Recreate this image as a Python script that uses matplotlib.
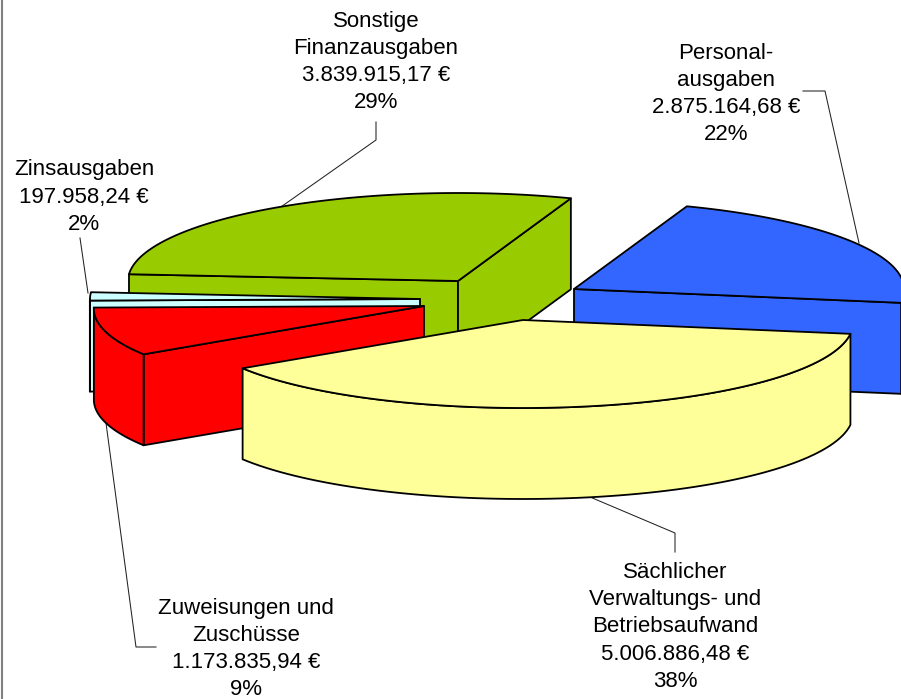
import numpy as np
import matplotlib
matplotlib.use('Agg')
import matplotlib.pyplot as plt
from matplotlib.patches import Polygon

plt.rcParams['font.family'] = ['Liberation Sans', 'DejaVu Sans']

# clockwise order of the pie
names = ['Personal-\nausgaben', 'Sächlicher\nVerwaltungs- und\nBetriebsaufwand',
         'Zuweisungen und\nZuschüsse', 'Zinsausgaben', 'Sonstige\nFinanzausgaben']
amounts = [2875164.68, 5006886.48, 1173835.94, 197958.24, 3839915.17]
amount_labels = ['2.875.164,68 €', '5.006.886,48 €', '1.173.835,94 €', '197.958,24 €', '3.839.915,17 €']
percent_labels = ['22%', '38%', '9%', '2%', '29%']
colors = ['#3366FF', '#FFFF99', '#FF0000', '#CCFFFF', '#99CC00']

# layout, in pixels of the picture
apex = [(574, 289), (523, 320), (424, 306), (420, 299), (458, 281)]
draw_order = [4, 0, 3, 2, 1]
label_pos = [(726, 94), (675, 627), (246, 649), (84, 197), (376, 62)]
leaders = [
    [(859, 243), (825, 91), (803, 91)],
    [(590, 497), (675, 533), (675, 552)],
    [(106, 423), (136, 647), (156, 647)],
    [(80, 238), (88, 293)],
    [(278, 209), (376, 140), (376, 122)],
]
RX, RY, DEPTH = 330, 88, 91
NEAR = 0.03  # front of the pie looks a bit wider
START = 290

fig = plt.figure(figsize=(9.01, 6.99), dpi=100)
ax = fig.add_axes([0, 0, 1, 1])
ax.set_xlim(0, 901)
ax.set_ylim(699, 0)
ax.axis('off')


def rim_point(c, deg):
    t = np.radians(deg)
    wide = 1 + NEAR * np.maximum(np.sin(t), 0)
    return np.column_stack([c[0] + RX * wide * np.cos(t), c[1] + RY * np.sin(t)])


def arc(c, a, b):
    return rim_point(c, np.linspace(a, b, 80))


def patch(pts, color):
    ax.add_patch(Polygon(pts, closed=True, facecolor=color, edgecolor='black',
                         linewidth=1.3, joinstyle='round', zorder=3))


def cut_face(c, deg, color):
    p = rim_point(c, deg)[0]
    patch([c, p, (p[0], p[1] + DEPTH), (c[0], c[1] + DEPTH)], color)


shares = np.array(amounts) / sum(amounts)
edges = START + np.concatenate([[0], np.cumsum(shares) * 360])

# back slices first, each one: cut faces, outer rim, top
for i in draw_order:
    a, b = edges[i], edges[i + 1]
    c = apex[i]
    if np.sin(np.radians(a - 90)) > 0:
        cut_face(c, a, colors[i])
    if np.sin(np.radians(b + 90)) > 0:
        cut_face(c, b, colors[i])
    for lo, hi in [(0, 180), (360, 540)]:
        s, e = max(a, lo), min(b, hi)
        if s < e:
            top = arc(c, s, e)
            patch(np.vstack([top, top[::-1] + (0, DEPTH)]), colors[i])
    patch(np.vstack([[c], arc(c, a, b)]), colors[i])

for pts in leaders:
    xs, ys = zip(*pts)
    ax.plot(xs, ys, color='#222222', lw=0.75, zorder=2)

ax.plot([2, 2], [0, 699], color='#808080', lw=1.5, zorder=1)

for i in range(len(names)):
    txt = '{}\n{}\n{}'.format(names[i], amount_labels[i], percent_labels[i])
    ax.text(label_pos[i][0], label_pos[i][1], txt, fontsize=16, ha='center', va='center',
            linespacing=1.38, color='black', zorder=5)

fig.savefig('out.png', dpi=100)
